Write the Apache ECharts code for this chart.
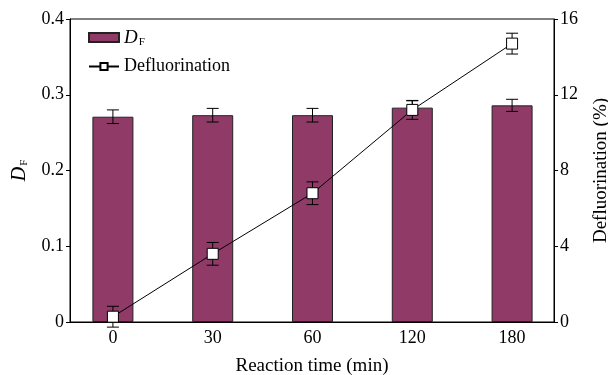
<!DOCTYPE html>
<html>
<head>
<meta charset="utf-8">
<script src="https://cdn.jsdelivr.net/npm/echarts@6/dist/echarts.min.js"></script>
<style>
  html, body { margin: 0; padding: 0; background: #fff; }
  #box1 { width: 608px; height: 375px; }
</style>
</head>
<body>
<div id="box1"></div>
<script>
var chartDom = document.getElementById('box1');
var myChart = echarts.init(chartDom);

// data
var categories = ['0', '30', '60', '120', '180'];
var dfValues = [0.271, 0.273, 0.273, 0.283, 0.286];
var dfErrors = [0.009, 0.009, 0.009, 0.009, 0.008];
var deflValues = [0.28, 3.6, 6.8, 11.2, 14.7];
var deflErrors = [0.55, 0.6, 0.6, 0.5, 0.55];

var fontFam = '"Liberation Serif", "Times New Roman", serif';

var barData = dfValues.map(function (v, i) { return [i, v]; });
var lineData = deflValues.map(function (v, i) { return [i, v]; });
var dfErrData = dfValues.map(function (v, i) { return [i, v - dfErrors[i], v + dfErrors[i]]; });
var deflErrData = deflValues.map(function (v, i) { return [i, v - deflErrors[i], v + deflErrors[i]]; });

function errRender(cap) {
    return function (params, api) {
        var x = api.value(0);
        var lo = api.coord([x, api.value(1)]);
        var hi = api.coord([x, api.value(2)]);
        var st = { stroke: '#000', lineWidth: 1 };
        return {
            type: 'group',
            children: [
                { type: 'line', shape: { x1: lo[0], y1: lo[1], x2: hi[0], y2: hi[1] }, style: st },
                { type: 'line', shape: { x1: lo[0] - cap, y1: lo[1], x2: lo[0] + cap, y2: lo[1] }, style: st },
                { type: 'line', shape: { x1: hi[0] - cap, y1: hi[1], x2: hi[0] + cap, y2: hi[1] }, style: st }
            ]
        };
    };
}

var option = {
    animation: false,
    textStyle: { fontFamily: fontFam },
    grid: {
        left: 70, right: 54, top: 19, bottom: 53,
        containLabel: false, outerBoundsMode: 'none',
        show: true, borderColor: '#000', borderWidth: 1
    },
    legend: {
        data: [{ name: 'DF', icon: 'rect' }, { name: 'Defluorination' }],
        orient: 'vertical',
        left: 83, top: 23,
        itemWidth: 30, itemHeight: 9, itemGap: 10,
        textStyle: {
            fontFamily: fontFam, fontSize: 18, color: '#000',
            rich: {
                i: { fontFamily: fontFam, fontStyle: 'italic', fontSize: 19, color: '#000' },
                s: { fontFamily: fontFam, fontSize: 11, color: '#000', padding: [9, 0, 0, 1] }
            }
        },
        formatter: function (name) {
            return name === 'DF' ? '{i|D}{s|F}' : name;
        }
    },
    xAxis: {
        type: 'value',
        min: -0.43, max: 4.42,
        name: 'Reaction time (min)',
        nameLocation: 'middle', nameGap: 35,
        nameTextStyle: { fontFamily: fontFam, fontSize: 19, color: '#000' },
        splitLine: { show: false },
        axisLine: { lineStyle: { color: '#000', width: 1 } },
        axisTick: { inside: true, length: 4, customValues: [0, 1, 2, 3, 4], lineStyle: { color: '#000' } },
        axisLabel: {
            customValues: [0, 1, 2, 3, 4],
            fontFamily: fontFam, fontSize: 18, color: '#000', margin: 7,
            formatter: function (v) { return categories[Math.round(v)]; }
        }
    },
    yAxis: [{
        type: 'value',
        min: 0, max: 0.4, interval: 0.1,
        name: '{i|D}{s|F}',
        nameLocation: 'middle', nameGap: 40, nameRotate: 90,
        nameTextStyle: {
            color: '#000',
            rich: {
                i: { fontFamily: fontFam, fontStyle: 'italic', fontSize: 20, color: '#000' },
                s: { fontFamily: fontFam, fontSize: 11, color: '#000', padding: [9, 0, 0, 1] }
            }
        },
        splitLine: { show: false },
        axisLine: { show: true, onZero: false, lineStyle: { color: '#000', width: 1 } },
        axisTick: { show: true, length: 4, lineStyle: { color: '#000' } },
        axisLabel: {
            fontFamily: fontFam, fontSize: 18, color: '#000', margin: 6,
            formatter: function (v) { return v === 0 ? '0' : v.toFixed(1); }
        }
    }, {
        type: 'value',
        min: 0, max: 16, interval: 4,
        name: 'Defluorination (%)',
        nameLocation: 'middle', nameGap: 38, nameRotate: 90,
        nameTextStyle: { fontFamily: fontFam, fontSize: 19, color: '#000' },
        splitLine: { show: false },
        axisLine: { show: true, onZero: false, lineStyle: { color: '#000', width: 1 } },
        axisTick: { show: true, length: 4, lineStyle: { color: '#000' } },
        axisLabel: { fontFamily: fontFam, fontSize: 18, color: '#000', margin: 6 }
    }],
    series: [{
        name: 'DF',
        type: 'bar',
        yAxisIndex: 0,
        barWidth: 41,
        itemStyle: { color: '#903a67', borderColor: '#222', borderWidth: 1 },
        data: barData,
        z: 2
    }, {
        name: 'dfErr',
        type: 'custom',
        yAxisIndex: 0,
        renderItem: errRender(6),
        encode: { x: 0, y: [1, 2] },
        data: dfErrData,
        z: 3
    }, {
        name: 'deflErr',
        type: 'custom',
        yAxisIndex: 1,
        renderItem: errRender(6),
        encode: { x: 0, y: [1, 2] },
        data: deflErrData,
        z: 4
    }, {
        name: 'Defluorination',
        type: 'line',
        yAxisIndex: 1,
        symbol: 'rect',
        symbolSize: 11,
        lineStyle: { color: '#000', width: 1 },
        itemStyle: { color: '#fff', borderColor: '#000', borderWidth: 1 },
        data: lineData,
        z: 5
    }]
};

myChart.setOption(option);
</script>
</body>
</html>
